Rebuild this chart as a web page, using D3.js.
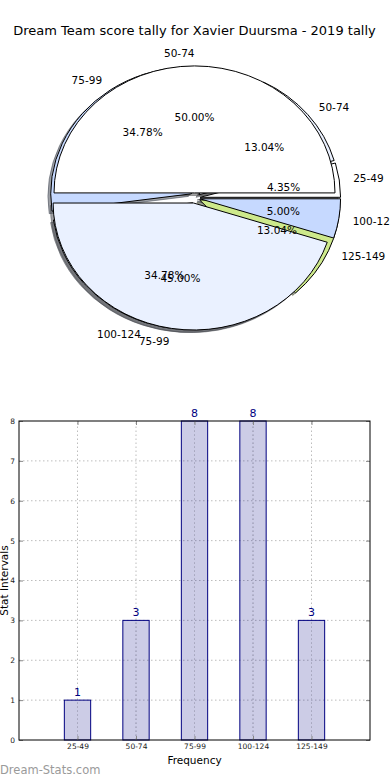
<!DOCTYPE html>
<html>
<head>
<meta charset="utf-8">
<script src="https://cdn.jsdelivr.net/npm/d3@7"></script>
<style>
  body { margin: 0; background: #fff; }
  svg { display: block; }
  text { font-family: "DejaVu Sans", sans-serif; }
</style>
</head>
<body>
<div id="chart"></div>
<script>

// chart values
const title = "Dream Team score tally for Xavier Duursma - 2019 tally";
const intervals = ["25-49", "50-74", "75-99", "100-124", "125-149"];
const counts = [1, 3, 8, 8, 3];
const pieTwoLabels = ["50-74", "75-99", "100-124"];
const pieTwoValues = [50, 45, 5];
const pieColors = ["#ffffff", "#eaf1ff", "#c6d9ff", "#dde8ff", "#cde98b"];
const yTicks = [0, 1, 2, 3, 4, 5, 6, 7, 8];

const width = 390, height = 780;
const explode = 0.04;

const svg = d3.select("#chart")
    .append("svg")
    .attr("width", width)
    .attr("height", height);

// title
svg.append("text")
    .attr("x", 194.5)
    .attr("y", 30)
    .attr("text-anchor", "middle")
    .attr("dominant-baseline", "central")
    .attr("font-size", "13px")
    .attr("fill", "#000")
    .text(title);

/* Pie part: two overlapping exploded pies (matplotlib style, counter-clockwise from east) */

// data coords -> pixels (ellipse because aspect isn't equal)
const px = d3.scaleLinear().domain([-1, 1]).range([54, 335]);
const py = d3.scaleLinear().domain([-1, 1]).range([325, 71]);
const rx = (px(1) - px(-1)) / 2, ry = (py(-1) - py(1)) / 2;

const pie = d3.pie().sort(null)
    .startAngle(Math.PI / 2)
    .endAngle(Math.PI / 2 - 2 * Math.PI);

const arc = d3.arc().innerRadius(0).outerRadius(1);

// build one pie's slices with their explode offsets
function slices(values, labels) {
  const total = d3.sum(values);
  return pie(values).map((d, i) => {
    const theta = Math.PI / 2 - (d.startAngle + d.endAngle) / 2; // math angle
    const ox = explode * Math.cos(theta), oy = explode * Math.sin(theta);
    return {
      arc: d,
      color: pieColors[i],
      ox: ox, oy: oy,
      lx: ox + 1.1 * Math.cos(theta), ly: oy + 1.1 * Math.sin(theta),
      tx: ox + 0.6 * Math.cos(theta), ty: oy + 0.6 * Math.sin(theta),
      label: labels[i],
      pct: d3.format(".2f")(values[i] / total * 100) + "%"
    };
  });
}

const pieOne = slices(counts, intervals);
const pieTwo = slices(pieTwoValues, pieTwoLabels);

const shade = function(c) {
  const k = d3.rgb(c);
  return d3.rgb(k.r * 0.3, k.g * 0.3, k.b * 0.3).toString();
};

const pieG = svg.append("g");

// shadows first (below every wedge)
[pieOne, pieTwo].forEach((p) => {
  pieG.selectAll(null)
      .data(p)
      .enter()
      .append("path")
        .attr("transform", (d) => `translate(${px(d.ox - 0.02)},${py(d.oy - 0.02)}) scale(${rx},${ry})`)
        .attr("d", (d) => arc(d.arc))
        .attr("fill", (d) => shade(d.color))
        .attr("fill-opacity", 0.5)
        .attr("stroke", (d) => shade(d.color))
        .attr("stroke-opacity", 0.5)
        .attr("vector-effect", "non-scaling-stroke");
});

// wedges
[pieOne, pieTwo].forEach((p) => {
  pieG.selectAll(null)
      .data(p)
      .enter()
      .append("path")
        .attr("transform", (d) => `translate(${px(d.ox)},${py(d.oy)}) scale(${rx},${ry})`)
        .attr("d", (d) => arc(d.arc))
        .attr("fill", (d) => d.color)
        .attr("stroke", "#000")
        .attr("stroke-width", 1)
        .attr("stroke-linejoin", "round")
        .attr("vector-effect", "non-scaling-stroke");
});

// labels and percentages
[pieOne, pieTwo].forEach((p) => {
  pieG.selectAll(null)
      .data(p)
      .enter()
      .append("text")
        .attr("x", (d) => px(d.lx))
        .attr("y", (d) => py(d.ly))
        .attr("text-anchor", (d) => d.lx > 0 ? "start" : "end")
        .attr("dominant-baseline", "central")
        .attr("font-size", "10.5px")
        .text((d) => d.label);

  pieG.selectAll(null)
      .data(p)
      .enter()
      .append("text")
        .attr("x", (d) => px(d.tx))
        .attr("y", (d) => py(d.ty))
        .attr("text-anchor", "middle")
        .attr("dominant-baseline", "central")
        .attr("font-size", "10.5px")
        .text((d) => d.pct);
});

/* Bar part */

const bx = d3.scaleLinear().domain([-1, 5]).range([19, 370]);
const by = d3.scaleLinear().domain([0, 8]).range([740, 421]);
const barW = 0.45;

const barG = svg.append("g");

// dotted grid
barG.selectAll(".hgrid")
    .data(yTicks.slice(1, -1))
    .enter()
    .append("line")
      .attr("x1", bx(-1)).attr("x2", bx(5))
      .attr("y1", (d) => by(d)).attr("y2", (d) => by(d))
      .attr("stroke", "#bdbdbd")
      .attr("stroke-dasharray", "1.5,2.5");

barG.selectAll(".vgrid")
    .data(intervals)
    .enter()
    .append("line")
      .attr("x1", (d, i) => bx(i)).attr("x2", (d, i) => bx(i))
      .attr("y1", by(0)).attr("y2", by(8))
      .attr("stroke", "#bdbdbd")
      .attr("stroke-dasharray", "1.5,2.5");

// bars
barG.selectAll("rect.bar")
    .data(counts)
    .enter()
    .append("rect")
      .attr("class", "bar")
      .attr("x", (d, i) => bx(i - barW / 2))
      .attr("y", (d) => by(d))
      .attr("width", bx(barW) - bx(0))
      .attr("height", (d) => by(0) - by(d))
      .attr("fill", "#000080")
      .attr("fill-opacity", 0.2)
      .attr("stroke", "#000080")
      .attr("stroke-width", 1);

// grid lines show through the bars
barG.selectAll(".vgrid2")
    .data(counts)
    .enter()
    .append("line")
      .attr("x1", (d, i) => bx(i)).attr("x2", (d, i) => bx(i))
      .attr("y1", by(0)).attr("y2", (d) => by(d))
      .attr("stroke", "#a9a9c0")
      .attr("stroke-dasharray", "1.5,2.5");

// value labels on bars
barG.selectAll("text.val")
    .data(counts)
    .enter()
    .append("text")
      .attr("class", "val")
      .attr("x", (d, i) => bx(i))
      .attr("y", (d) => by(d) - 4)
      .attr("text-anchor", "middle")
      .attr("font-size", "11px")
      .attr("fill", "#000080")
      .text((d) => d);

// axes
const yAxis = barG.append("g")
    .attr("transform", `translate(${bx(-1)},0)`)
    .call(d3.axisLeft(by).tickValues(yTicks).tickSizeInner(-4).tickSizeOuter(0).tickPadding(4));

const xAxis = barG.append("g")
    .attr("transform", `translate(0,${by(0)})`)
    .call(d3.axisBottom(bx).tickValues([0, 1, 2, 3, 4]).tickFormat((d) => intervals[d])
      .tickSizeInner(-4).tickSizeOuter(0).tickPadding(4));

[yAxis, xAxis].forEach((a) => {
  a.select(".domain").remove();
  a.selectAll("line").attr("stroke", "#888");
  a.selectAll("text").attr("font-size", "7.5px").attr("fill", "#222")
    .attr("font-family", "DejaVu Sans, sans-serif");
});

// ticks on the opposite sides
barG.append("g")
    .attr("transform", `translate(${bx(5)},0)`)
    .call(d3.axisRight(by).tickValues(yTicks).tickSizeInner(-4).tickSizeOuter(0).tickFormat(""))
    .call((g) => { g.select(".domain").remove(); g.selectAll("line").attr("stroke", "#888"); });

barG.append("g")
    .attr("transform", `translate(0,${by(8)})`)
    .call(d3.axisTop(bx).tickValues([0, 1, 2, 3, 4]).tickSizeInner(-4).tickSizeOuter(0).tickFormat(""))
    .call((g) => { g.select(".domain").remove(); g.selectAll("line").attr("stroke", "#888"); });

// frame
barG.append("rect")
    .attr("x", bx(-1)).attr("y", by(8))
    .attr("width", bx(5) - bx(-1))
    .attr("height", by(0) - by(8))
    .attr("fill", "none")
    .attr("stroke", "#000")
    .attr("stroke-width", 1);

// axis titles
svg.append("text")
    .attr("x", (bx(-1) + bx(5)) / 2)
    .attr("y", 760)
    .attr("text-anchor", "middle")
    .attr("dominant-baseline", "central")
    .attr("font-size", "10.5px")
    .text("Frequency");

svg.append("text")
    .attr("transform", `translate(4,${(by(0) + by(8)) / 2}) rotate(-90)`)
    .attr("text-anchor", "middle")
    .attr("dominant-baseline", "central")
    .attr("font-size", "10.5px")
    .text("Stat Intervals");

// watermark
svg.append("text")
    .attr("x", 0)
    .attr("y", 770)
    .attr("dominant-baseline", "central")
    .attr("font-size", "11.5px")
    .attr("fill", "#9a9a9a")
    .text("Dream-Stats.com");

</script>
</body>
</html>
